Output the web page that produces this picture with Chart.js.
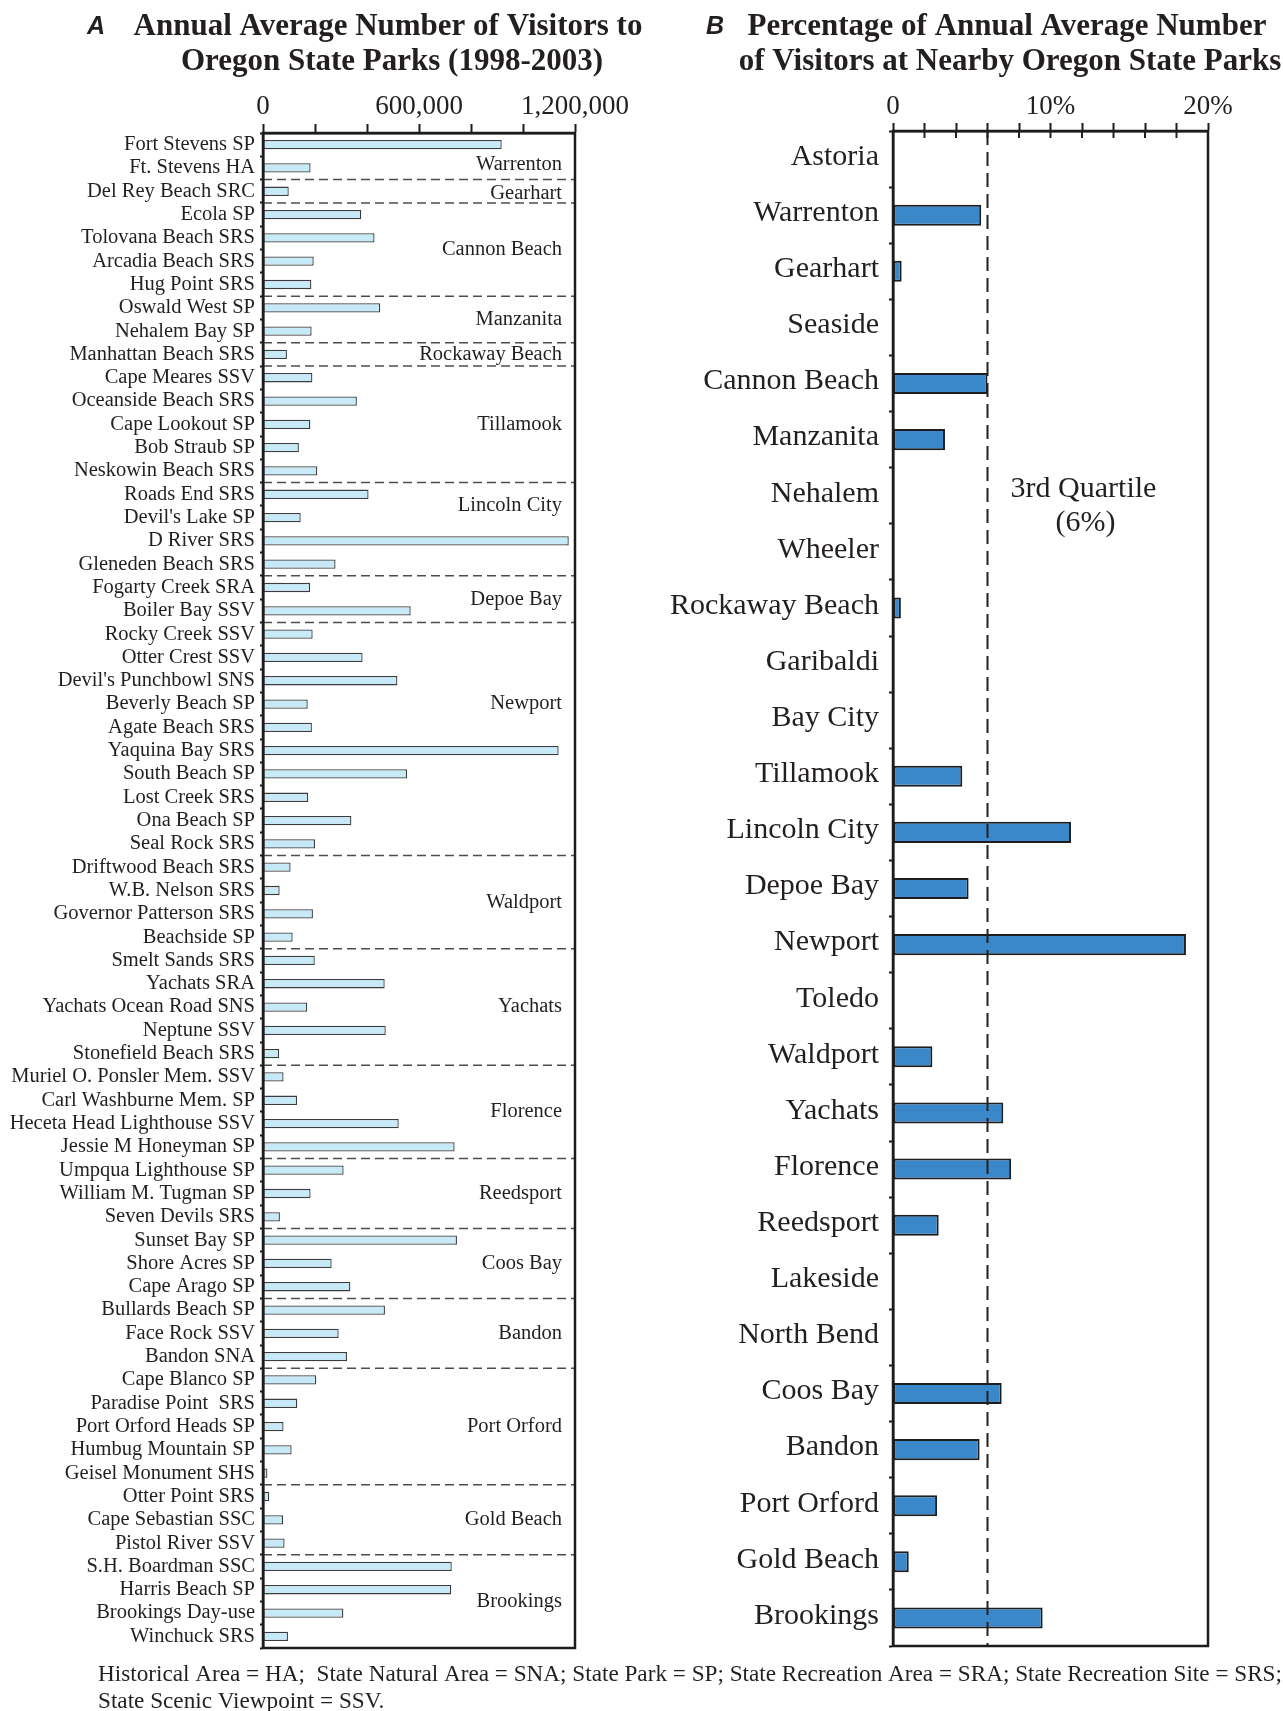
<!DOCTYPE html>
<html>
<head>
<meta charset="utf-8">
<title>Oregon State Parks visitors</title>
<script src="https://cdn.jsdelivr.net/npm/chart.js@4.4.1/dist/chart.umd.min.js"></script>
<style>
  html, body { margin: 0; padding: 0; background: #ffffff; }
  #wrap { position: relative; width: 1283px; height: 1711px; }
  #wrap canvas { position: absolute; left: 0; top: 0; }
</style>
</head>
<body>
<div id="wrap">
  <canvas id="parks" width="1283" height="1711"></canvas>
  <canvas id="towns" width="1283" height="1711"></canvas>
</div>
<script>
// ---- Panel A: annual average visitors per park (1998-2003) ----
const parkNames = [
  'Fort Stevens SP', 'Ft. Stevens HA', 'Del Rey Beach SRC', 'Ecola SP', 'Tolovana Beach SRS',
  'Arcadia Beach SRS', 'Hug Point SRS', 'Oswald West SP', 'Nehalem Bay SP', 'Manhattan Beach SRS',
  'Cape Meares SSV', 'Oceanside Beach SRS', 'Cape Lookout SP', 'Bob Straub SP', 'Neskowin Beach SRS',
  'Roads End SRS', "Devil's Lake SP", 'D River SRS', 'Gleneden Beach SRS', 'Fogarty Creek SRA',
  'Boiler Bay SSV', 'Rocky Creek SSV', 'Otter Crest SSV', "Devil's Punchbowl SNS", 'Beverly Beach SP',
  'Agate Beach SRS', 'Yaquina Bay SRS', 'South Beach SP', 'Lost Creek SRS', 'Ona Beach SP',
  'Seal Rock SRS', 'Driftwood Beach SRS', 'W.B. Nelson SRS', 'Governor Patterson SRS', 'Beachside SP',
  'Smelt Sands SRS', 'Yachats SRA', 'Yachats Ocean Road SNS', 'Neptune SSV', 'Stonefield Beach SRS',
  'Muriel O. Ponsler Mem. SSV', 'Carl Washburne Mem. SP', 'Heceta Head Lighthouse SSV', 'Jessie M Honeyman SP', 'Umpqua Lighthouse SP',
  'William M. Tugman SP', 'Seven Devils SRS', 'Sunset Bay SP', 'Shore Acres SP', 'Cape Arago SP',
  'Bullards Beach SP', 'Face Rock SSV', 'Bandon SNA', 'Cape Blanco SP', 'Paradise Point  SRS',
  'Port Orford Heads SP', 'Humbug Mountain SP', 'Geisel Monument SHS', 'Otter Point SRS', 'Cape Sebastian SSC',
  'Pistol River SSV', 'S.H. Boardman SSC', 'Harris Beach SP', 'Brookings Day-use', 'Winchuck SRS'
];

const parkVisitors = [
  918000, 183000, 99000, 378000, 429000,
  195000, 186000, 451000, 187000, 92000,
  190000, 361000, 182000, 138000, 209000,
  406000, 145000, 1176000, 279000, 181000,
  568000, 191000, 383000, 517000, 172000,
  188000, 1137000, 554000, 174000, 340000,
  200000, 106000, 64000, 192000, 114000,
  199000, 468000, 170000, 472000, 62000,
  79000, 131000, 522000, 737000, 310000,
  183000, 65000, 746000, 264000, 336000,
  469000, 291000, 323000, 205000, 132000,
  79000, 110000, 17000, 24000, 77000,
  83000, 726000, 724000, 309000, 96000
];

// Towns the parks are grouped under, and how many consecutive parks each has
const parkTownGroups = [
  'Warrenton', 'Gearhart', 'Cannon Beach', 'Manzanita', 'Rockaway Beach', 'Tillamook',
  'Lincoln City', 'Depoe Bay', 'Newport', 'Waldport', 'Yachats', 'Florence',
  'Reedsport', 'Coos Bay', 'Bandon', 'Port Orford', 'Gold Beach', 'Brookings'
];
const parkTownGroupSizes = [2, 1, 4, 2, 1, 5, 4, 2, 10, 4, 5, 4, 3, 3, 3, 5, 3, 4];

const visitorTickValues = [0, 600000, 1200000];
const visitorTickLabels = ['0', '600,000', '1,200,000'];

// ---- Panel B: share of visitors by nearby town (%) ----
const towns = [
  'Astoria', 'Warrenton', 'Gearhart', 'Seaside', 'Cannon Beach', 'Manzanita', 'Nehalem',
  'Wheeler', 'Rockaway Beach', 'Garibaldi', 'Bay City', 'Tillamook', 'Lincoln City',
  'Depoe Bay', 'Newport', 'Toledo', 'Waldport', 'Yachats', 'Florence', 'Reedsport',
  'Lakeside', 'North Bend', 'Coos Bay', 'Bandon', 'Port Orford', 'Gold Beach', 'Brookings'
];
const townSharePct = [
  0, 5.6, 0.55, 0, 6.0, 3.3, 0,
  0, 0.5, 0, 0, 4.4, 11.3,
  4.8, 18.6, 0, 2.5, 7.0, 7.5, 2.9,
  0, 0, 6.9, 5.5, 2.8, 1.0, 9.5
];
const thirdQuartilePct = 6;
const shareTickValues = [0, 10, 20];
const shareTickLabels = ['0', '10%', '20%'];

// ---- Text ----
const titleA = ['Annual Average Number of Visitors to', 'Oregon State Parks (1998-2003)'];
const titleB = ['Percentage of Annual Average Number', 'of Visitors at Nearby Oregon State Parks'];
const quartileText = ['3rd Quartile', '(6%)'];
const footnoteLines = [
  'Historical Area = HA;  State Natural Area = SNA; State Park = SP; State Recreation Area = SRA; State Recreation Site = SRS;',
  'State Scenic Viewpoint = SSV.'
];

// ---- Layout / style ----
const SERIF = '"Liberation Serif", "Times New Roman", serif';
const SANS = '"Liberation Sans", Arial, sans-serif';
const INK = '#231f20';
const FRAME = '#1c1c1c';
// row offset of a group label relative to the middle of its group
const groupLabelShift = { 'Warrenton': 0.35, 'Gearhart': 0.12, 'Lincoln City': -1.0, 'Newport': -1.5 };

function drawTitle(ctx, letter, letterX, lines, centers) {
  ctx.save();
  ctx.fillStyle = INK;
  ctx.textBaseline = 'alphabetic';
  ctx.font = 'bold italic 25px ' + SANS;
  ctx.textAlign = 'left';
  ctx.fillText(letter, letterX, 34);
  ctx.font = 'bold 31px ' + SERIF;
  ctx.textAlign = 'center';
  ctx.fillText(lines[0], centers[0], 35);
  ctx.fillText(lines[1], centers[1], 70);
  ctx.restore();
}

function frame(ctx, a, top) {
  ctx.save();
  ctx.strokeStyle = FRAME;
  ctx.lineWidth = 2.5;
  ctx.setLineDash([]);
  const t = top === undefined ? a.top : top;
  ctx.strokeRect(a.left, t, a.right - a.left, a.bottom - t);
  ctx.restore();
}

const parksDecor = {
  id: 'parksDecor',
  afterDatasetsDraw(chart) {
    const { ctx, chartArea: a, scales: { y } } = chart;
    ctx.save();
    let start = 0;
    parkTownGroupSizes.forEach((n, g) => {
      const end = start + n;
      if (end < parkNames.length) {
        const yy = (y.getPixelForValue(end - 1) + y.getPixelForValue(end)) / 2;
        ctx.strokeStyle = '#4d4d4d';
        ctx.lineWidth = 1.5;
        ctx.setLineDash([9, 5]);
        ctx.beginPath();
        ctx.moveTo(a.left, yy);
        ctx.lineTo(a.right, yy);
        ctx.stroke();
      }
      const name = parkTownGroups[g];
      const mid = (start + end - 1) / 2 + (groupLabelShift[name] || 0);
      ctx.setLineDash([]);
      ctx.fillStyle = INK;
      ctx.font = '20.5px ' + SERIF;
      ctx.textAlign = 'right';
      ctx.textBaseline = 'middle';
      ctx.fillText(name, a.right - 13, y.getPixelForValue(mid));
      start = end;
    });
    ctx.restore();
    frame(ctx, a);
  },
  afterDraw(chart) {
    drawTitle(chart.ctx, 'A', 87, titleA, [388, 392]);
  }
};

const townsDecor = {
  id: 'townsDecor',
  afterDatasetsDraw(chart) {
    const { ctx, chartArea: a, scales: { x, y } } = chart;
    ctx.save();
    // third-quartile reference line
    const qx = x.getPixelForValue(thirdQuartilePct);
    ctx.strokeStyle = '#222222';
    ctx.lineWidth = 2;
    ctx.setLineDash([14, 7]);
    ctx.beginPath();
    ctx.moveTo(qx, a.top);
    ctx.lineTo(qx, a.bottom);
    ctx.stroke();
    ctx.setLineDash([]);
    // tick marks continue inside the frame
    ctx.lineWidth = 2;
    x.ticks.forEach((t, i) => {
      const px = x.getPixelForTick(i);
      ctx.beginPath();
      ctx.moveTo(px, a.top);
      ctx.lineTo(px, a.top + 7);
      ctx.stroke();
    });
    // quartile label
    const rowY = y.getPixelForValue(6);
    ctx.fillStyle = INK;
    ctx.font = '30px ' + SERIF;
    ctx.textAlign = 'center';
    ctx.textBaseline = 'alphabetic';
    ctx.fillText(quartileText[0], qx + 96, rowY + 1);
    ctx.fillText(quartileText[1], qx + 98, rowY + 35);
    ctx.restore();
    frame(ctx, a);
  },
  afterDraw(chart) {
    const ctx = chart.ctx;
    drawTitle(ctx, 'B', 706, titleB, [1007, 1010]);
    ctx.save();
    ctx.fillStyle = INK;
    ctx.font = '23.2px ' + SERIF;
    ctx.textAlign = 'left';
    ctx.textBaseline = 'alphabetic';
    ctx.fillText(footnoteLines[0], 98, 1681);
    ctx.fillText(footnoteLines[1], 98, 1708);
    ctx.restore();
  }
};

function tickLabeler(values, labels) {
  return function (value) {
    const k = values.indexOf(value);
    return k >= 0 ? labels[k] : '';
  };
}

new Chart(document.getElementById('parks'), {
  type: 'bar',
  data: {
    labels: parkNames,
    datasets: [{
      data: parkVisitors,
      backgroundColor: '#c8e9f8',
      borderColor: '#3c3c3c',
      borderWidth: 1.3,
      borderSkipped: false,
      categoryPercentage: 1,
      barPercentage: 0.4
    }]
  },
  options: {
    indexAxis: 'y',
    responsive: false,
    animation: false,
    events: [],
    layout: { padding: { left: 0, top: 0, right: 708, bottom: 63 } },
    plugins: { legend: { display: false }, tooltip: { enabled: false }, title: { display: false } },
    scales: {
      x: {
        position: 'top',
        min: 0,
        max: 1200000,
        afterFit(s) { s.height = 133; },
        ticks: {
          stepSize: 200000,
          autoSkip: false,
          maxRotation: 0,
          padding: 1,
          color: INK,
          font: { family: SERIF, size: 27 },
          callback: tickLabeler(visitorTickValues, visitorTickLabels)
        },
        grid: { drawOnChartArea: false, drawTicks: true, tickLength: 9, tickWidth: 2, tickColor: FRAME },
        border: { display: true, width: 2.5, color: FRAME }
      },
      y: {
        afterFit(s) { s.width = 263; },
        ticks: {
          autoSkip: false,
          padding: 5,
          color: INK,
          font: { family: SERIF, size: 20.5 }
        },
        grid: { drawOnChartArea: false, drawTicks: true, tickLength: 3, tickWidth: 2, tickColor: FRAME, offset: true },
        border: { display: true, width: 2.5, color: FRAME }
      }
    }
  },
  plugins: [parksDecor]
});

new Chart(document.getElementById('towns'), {
  type: 'bar',
  data: {
    labels: towns,
    datasets: [{
      data: townSharePct,
      backgroundColor: '#3a88c9',
      borderColor: '#1e1e1e',
      borderWidth: 2,
      borderSkipped: false,
      categoryPercentage: 1,
      barPercentage: 0.375
    }]
  },
  options: {
    indexAxis: 'y',
    responsive: false,
    animation: false,
    events: [],
    layout: { padding: { left: 0, top: 0, right: 75, bottom: 65 } },
    plugins: { legend: { display: false }, tooltip: { enabled: false }, title: { display: false } },
    scales: {
      x: {
        position: 'top',
        min: 0,
        max: 20,
        afterFit(s) { s.height = 131; },
        ticks: {
          stepSize: 2,
          autoSkip: false,
          maxRotation: 0,
          padding: 0,
          color: INK,
          font: { family: SERIF, size: 27 },
          callback: tickLabeler(shareTickValues, shareTickLabels)
        },
        grid: { drawOnChartArea: false, drawTicks: true, tickLength: 8, tickWidth: 2, tickColor: FRAME },
        border: { display: true, width: 2.5, color: FRAME }
      },
      y: {
        afterFit(s) { s.width = 893; },
        ticks: {
          autoSkip: false,
          padding: 10,
          labelOffset: -2,
          color: INK,
          font: { family: SERIF, size: 30 }
        },
        grid: { drawOnChartArea: false, drawTicks: true, tickLength: 4, tickWidth: 2, tickColor: FRAME, offset: true },
        border: { display: true, width: 2.5, color: FRAME }
      }
    }
  },
  plugins: [townsDecor]
});
</script>
</body>
</html>
